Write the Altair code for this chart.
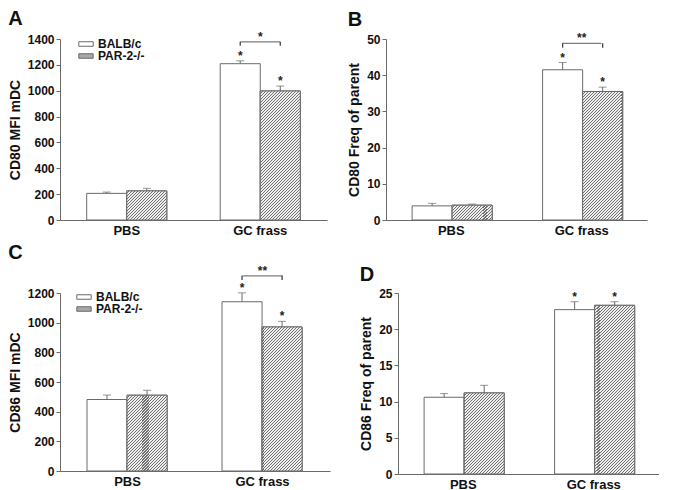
import altair as alt
import pandas as pd

groups = ["PBS", "GC frass"]
strains = ["BALB/c", "PAR-2-/-"]

# Panel A: CD80 MFI mDC
a_balb = [206, 1209]
a_balb_err = [10, 22]
a_par = [225, 998]
a_par_err = [20, 38]

# Panel B: CD80 Freq of parent
b_balb = [3.9, 41.5]
b_balb_err = [0.7, 2.0]
b_par = [4.1, 35.5]
b_par_err = [0.3, 1.2]

# Panel C: CD86 MFI mDC
c_balb = [482, 1141]
c_balb_err = [30, 60]
c_par = [511, 971]
c_par_err = [33, 38]

# Panel D: CD86 Freq of parent
d_balb = [10.6, 22.7]
d_balb_err = [0.5, 1.1]
d_par = [11.2, 23.3]
d_par_err = [1.05, 0.5]

# significance brackets between GC frass bars: (level, drop, text)
a_bracket = (1378, 30, "*")
b_bracket = (48.8, 1.2, "**")
c_bracket = (1316, 28, "**")

FONT = "Liberation Sans"
LINE = "#6a6a6a"


def build_df(balb, balb_err, par, par_err):
    rows = []
    for s, vals, errs in [(strains[0], balb, balb_err), (strains[1], par, par_err)]:
        for g, v, e in zip(groups, vals, errs):
            rows.append({"group": g, "strain": s, "value": v, "err": e,
                         "upper": v + e, "star": "*" if g == "GC frass" else ""})
    return pd.DataFrame(rows)


def hatch(w, h, period=3.0, frac=0.36, dark="#707070", light="#eeeeee"):
    k = (w + h) / (w * w + h * h)
    total = w + h
    stops = []
    n = int(total / period) + 1
    for i in range(n):
        t0 = i * period / total
        t1 = (i * period + (1 - frac) * period) / total
        t2 = (i + 1) * period / total
        if t0 > 1:
            break
        stops.append(alt.GradientStop(offset=min(t0, 1), color=light))
        stops.append(alt.GradientStop(offset=min(t1, 1), color=light))
        stops.append(alt.GradientStop(offset=min(t1, 1), color=dark))
        stops.append(alt.GradientStop(offset=min(t2, 1), color=dark))
    return alt.LinearGradient(gradient="linear", stops=stops,
                              x1=0, y1=0, x2=k * w, y2=k * h)


def panel(letter, ytitle, df, ymax, ystep, W, H, lx, ly, bracket=None):
    xenc = alt.X("group:N", sort=groups,
                 scale=alt.Scale(domain=groups, paddingInner=0.4, paddingOuter=0.2),
                 axis=alt.Axis(title=None, labelAngle=0, ticks=False, labelPadding=4,
                               labelFontSize=13, labelFontWeight="bold",
                               labelColor="#111", domainColor=LINE))
    xoff = alt.XOffset("strain:N", sort=strains,
                       scale=alt.Scale(domain=strains, paddingInner=0, paddingOuter=0))
    yscale = alt.Scale(domain=[0, ymax], nice=False, zero=True)
    ticks = [round(i * ystep, 6) for i in range(int(round(ymax / ystep)) + 1)]
    yaxis = alt.Axis(title=ytitle, values=ticks, grid=False, tickSize=4,
                     tickColor=LINE, domainColor=LINE, labelOverlap=False,
                     labelFontSize=12, labelFontWeight="bold", labelColor="#111",
                     labelPadding=2, titleFontSize=14, titleFontWeight="bold",
                     titleColor="#111", titlePadding=5, format="d")
    yenc = alt.Y("value:Q", scale=yscale, axis=yaxis, title=ytitle)
    yup = alt.Y("upper:Q", scale=yscale, axis=yaxis, title=ytitle)
    base = alt.Chart(df)
    bars = base.mark_bar(stroke=LINE, strokeWidth=1).encode(
        x=xenc, xOffset=xoff, y=yenc,
        color=alt.Color("strain:N",
                        scale=alt.Scale(domain=strains, range=["#ffffff", "#a8a8a8"]),
                        legend=alt.Legend(title=None, orient="none", legendX=lx, legendY=ly,
                                          symbolType="M-1.6,-0.5L1.6,-0.5L1.6,0.5L-1.6,0.5Z",
                                          symbolSize=81, symbolStrokeColor=LINE,
                                          symbolStrokeWidth=1, labelFontSize=12,
                                          labelFontWeight="bold", labelColor="#111",
                                          labelOffset=6, rowPadding=-5, padding=0)))
    layers = [bars]
    bw = 0.15 * W
    for g in groups:
        v = float(df[(df.strain == strains[1]) & (df.group == g)]["value"].iloc[0])
        hpx = v / ymax * H
        layers.append(
            base.transform_filter((alt.datum.strain == strains[1]) & (alt.datum.group == g))
            .mark_bar(stroke=LINE, strokeWidth=1, fill=hatch(bw, hpx))
            .encode(x=xenc, xOffset=xoff, y=yenc)
        )
    layers.append(base.mark_rule(color=LINE, strokeWidth=1).encode(
        x=xenc, xOffset=xoff, y=yenc, y2="upper:Q"))
    layers.append(base.mark_tick(color=LINE, thickness=1, size=8).encode(
        x=xenc, xOffset=xoff, y=yup))
    layers.append(base.transform_filter(alt.datum.star != "").mark_text(
        text="*", fontSize=12, fontWeight="bold", color="#222", baseline="middle", dy=-5
    ).encode(x=xenc, xOffset=xoff, y=yup))
    if bracket is not None:
        level, drop, txt = bracket
        bdf = pd.DataFrame({"group": ["GC frass", "GC frass"], "strain": strains,
                            "value": [level, level], "low": [level - drop, level - drop],
                            "txt": [txt, txt]})
        bb = alt.Chart(bdf)
        layers.append(bb.mark_rule(color="#444", strokeWidth=1.3).encode(
            x=xenc, xOffset=xoff, y=yenc, y2="low:Q"))
        layers.append(bb.transform_filter(alt.datum.strain == strains[0]).mark_tick(
            color="#444", thickness=1.3, size=bw).encode(x=xenc, y=yenc))
        layers.append(bb.transform_filter(alt.datum.strain == strains[0]).mark_text(
            fontSize=12, fontWeight="bold", color="#222", baseline="middle", dy=-5
        ).encode(x=xenc, y=yenc, text="txt:N"))
    return alt.layer(*layers).properties(
        width=W, height=H,
        title=alt.TitleParams(letter, anchor="start", frame="bounds", fontSize=20,
                              fontWeight="bold", color="#111", offset=2))


dfA = build_df(a_balb, a_balb_err, a_par, a_par_err)
dfB = build_df(b_balb, b_balb_err, b_par, b_par_err)
dfC = build_df(c_balb, c_balb_err, c_par, c_par_err)
dfD = build_df(d_balb, d_balb_err, d_par, d_par_err)

pA = panel("A", "CD80 MFI mDC", dfA, 1400, 200, 267, 181, 20, -1, a_bracket)
pB = panel("B", "CD80 Freq of parent", dfB, 50, 10, 261, 181, 19, -1, b_bracket)
pC = panel("C", "CD86 MFI mDC", dfC, 1200, 200, 270, 178, 18, -2, c_bracket)
pD = panel("D", "CD86 Freq of parent", dfD, 25, 5, 261, 181, 18, 0)

row1 = alt.hconcat(pA, pB, spacing=20)
row2 = alt.hconcat(pC, pD, spacing=29)
chart = alt.vconcat(row1, row2, spacing=5).resolve_scale(
    color="independent", x="independent", y="independent"
).resolve_legend(color="independent").properties(padding=0).configure(
    font=FONT
).configure_view(stroke=None)

chart.save("out.html", embed_options={"renderer": "svg", "actions": False})
